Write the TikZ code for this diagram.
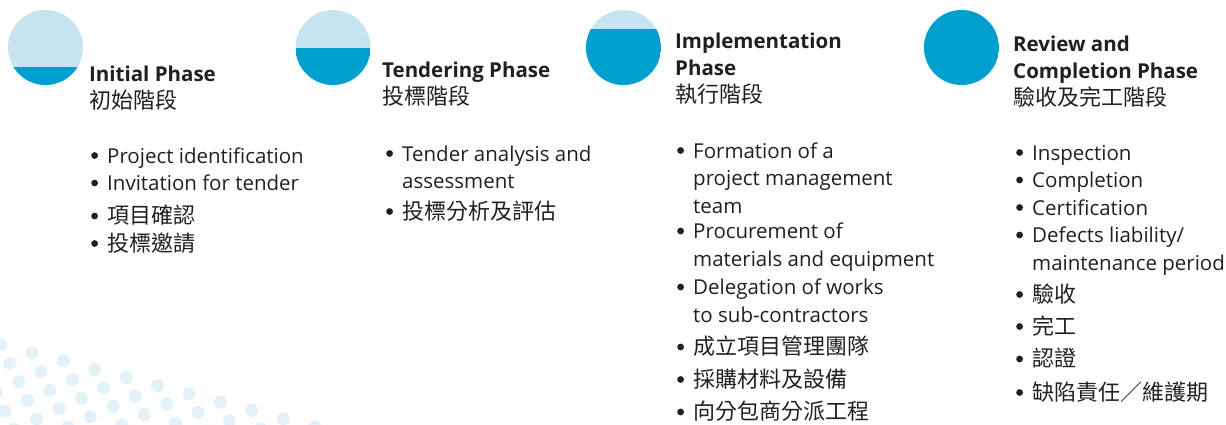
\documentclass[tikz,border=0pt]{standalone}
\usepackage{fontspec}
\setmainfont{Open Sans}
\newfontfamily\cjk{Noto Sans CJK TC}
\usetikzlibrary{positioning}

\definecolor{paleblue}{HTML}{C7E4F1}
\definecolor{seablue}{HTML}{00A0CE}
\definecolor{dotblue}{HTML}{E3F1F8}
\definecolor{ink}{HTML}{231F20}

\newcommand{\zh}{\cjk\mdseries\fontsize{22}{27.5}\selectfont}
\newcommand{\bul}{\makebox[16pt][l]{\tikz[baseline=0pt]\fill[ink] (3.5pt,7.5pt) circle (3.4pt);}}
\newcommand{\ind}{\hspace*{16pt}}

\tikzset{
  phase/.style={circle, minimum size=75pt, inner sep=0pt, fill=paleblue},
  level/.style={path picture={\fill[seablue] ([yshift=#1]path picture bounding box.west) rectangle (path picture bounding box.south east);}},
  % base = baseline of the last line
  title/.style={anchor=base west, inner sep=0pt, align=left, text=ink,
    font=\bfseries\fontsize{20.5}{27}\selectfont},
  items/.style={anchor=base west, inner sep=0pt, align=left, text=ink,
    font=\fontsize{20.5}{27.5}\selectfont},
}

\begin{document}
\begin{tikzpicture}[x=1pt, y=-1pt]
\useasboundingbox (0,0) rectangle (1226,424);

% dots in the corner
\begin{scope}
  \clip (0,0) rectangle (1226,424);
  \foreach \j in {-2,...,10}
    \foreach \k in {0,...,5}
      \fill[dotblue] ({32+31.4*\j+9*\k},{353+8.2*\j+18.5*\k}) circle (6.5pt);
\end{scope}

% phases
\node[phase, level=-19.5pt] (c1) at (45.5,47.5) {};
\node[phase, level=0pt] (c2) at (333,47.5) {};
\node[phase, level=19pt] (c3) at (623.5,47.5) {};
\node[phase, level=40pt] (c4) at (961.5,47.5) {};

\node[title] (t1) at (89,108.5) {Initial Phase\\{\zh 初始階段}};
\node[title] (t2) at (382,104) {Tendering Phase\\{\zh 投標階段}};
\node[title] (t3) at (675,102) {Implementation\\Phase\\{\zh 執行階段}};
\node[title] (t4) at (1013,105) {Review and\\Completion Phase\\{\zh 驗收及完工階段}};

% tasks
\node[items] (l1) at (91,251) {\bul Project identification\\
  \bul Invitation for tender\\[5.5pt]
  \bul{\zh 項目確認}\\
  \bul{\zh 投標邀請}};
\node[items] (l2) at (386,219) {\bul Tender analysis and\\
  \ind assessment\\[3pt]
  \bul{\zh 投標分析及評估}};
\node[items] (l3) at (677,419.5) {\bul Formation of a\\
  \ind project management\\
  \ind team\\[-2pt]
  \bul Procurement of\\
  \ind materials and equipment\\[1pt]
  \bul Delegation of works\\
  \ind to sub-contractors\\[5pt]
  \bul{\zh 成立項目管理團隊}\\[5pt]
  \bul{\zh 採購材料及設備}\\[5pt]
  \bul{\zh 向分包商分派工程}};
\node[items] (l4) at (1016,400) {\bul Inspection\\
  \bul Completion\\
  \bul Certification\\
  \bul Defects liability/\\
  \ind maintenance period\\[4.5pt]
  \bul{\zh 驗收}\\[4.5pt]
  \bul{\zh 完工}\\[5pt]
  \bul{\zh 認證}\\[6pt]
  \bul{\zh 缺陷責任／維護期}};
\end{tikzpicture}
\end{document}
